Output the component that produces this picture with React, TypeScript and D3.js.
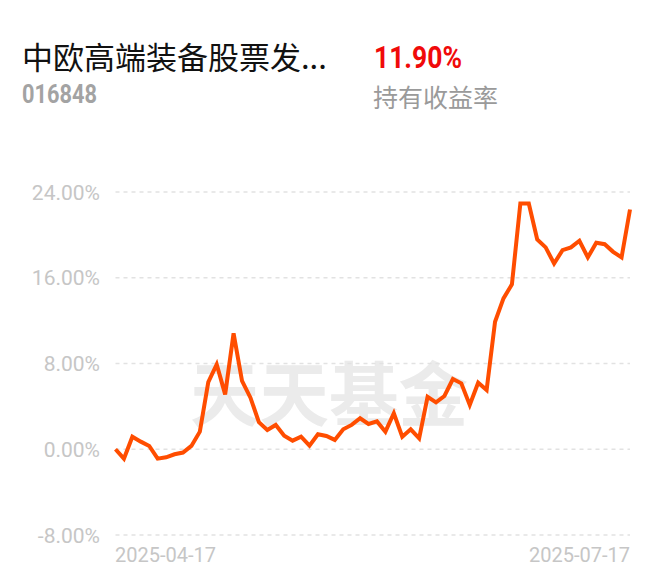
import React from "react";
import * as d3 from "d3";

const fundName = "中欧高端装备股票发...";
const fundCode = "016848";
const returnValue = "11.90%";
const returnLabel = "持有收益率";
const watermark = "天天基金";

const yTicks = [-8, 0, 8, 16, 24];
const xLabels = ["2025-04-17", "2025-07-17"];

const values = [
  0.0, -0.88, 1.17, 0.71, 0.31, -0.88, -0.75, -0.47, -0.31, 0.31,
  1.64, 6.27, 7.92, 5.12, 10.81, 6.37, 4.81, 2.52, 1.8, 2.27,
  1.27, 0.8, 1.17, 0.34, 1.4, 1.24, 0.87, 1.86, 2.27, 2.89,
  2.36, 2.6, 1.64, 3.36, 1.17, 1.86, 1.02, 4.9, 4.38, 4.97,
  6.55, 6.15, 4.13, 6.21, 5.53, 11.9, 14.07, 15.38, 22.93, 22.93,
  19.57, 18.83, 17.33, 18.57, 18.83, 19.45, 17.9, 19.26, 19.13, 18.42,
  17.9, 22.37,
];

export default function App() {
  const W = 660;
  const H = 585;
  const left = 115.5;
  const right = 630;
  const x = d3.scaleLinear().domain([0, values.length - 1]).range([left, right]);
  const y = d3.scaleLinear().domain([-8, 24]).range([535, 192]);
  const line = d3
    .line<number>()
    .x((_, i) => x(i))
    .y((d) => y(d));

  const sans = "Roboto, 'Noto Sans', sans-serif";
  const cjk = "'Noto Sans CJK SC', sans-serif";

  return (
    <div style={{ position: "absolute", left: 0, top: 0 }}>
      <svg width={W} height={H} style={{ display: "block", background: "#fff" }}>
        <rect x={0} y={0} width={W} height={H} fill="#fff" />
        <text x={22} y={69} fontFamily={cjk} fontSize={31} fill="#111">
          {fundName}
        </text>
        <text
          x={374}
          y={68}
          fontFamily={sans}
          fontWeight="bold"
          fontSize={31}
          fill="#f00a0a"
          textLength={88}
          lengthAdjust="spacingAndGlyphs"
        >
          {returnValue}
        </text>
        <text
          x={22}
          y={103}
          fontFamily={sans}
          fontWeight="bold"
          fontSize={25}
          fill="#a3a3a3"
          textLength={75}
          lengthAdjust="spacingAndGlyphs"
        >
          {fundCode}
        </text>
        <text x={373} y={107} fontFamily={cjk} fontSize={25} fill="#9a9a9a">
          {returnLabel}
        </text>

        <text
          x={190}
          y={421}
          fontFamily={cjk}
          fontWeight="bold"
          fontSize={70}
          fill="#ebebeb"
          textLength={278}
          lengthAdjust="spacingAndGlyphs"
        >
          {watermark}
        </text>

        {yTicks.map((t) => (
          <g key={t}>
            <line
              x1={left}
              x2={right}
              y1={y(t)}
              y2={y(t)}
              stroke="#e2e2e2"
              strokeWidth={1.5}
              strokeDasharray="4 4"
            />
            <text
              x={100}
              y={y(t)}
              dy="0.36em"
              textAnchor="end"
              fontFamily={sans}
              fontSize={21}
              fill="#c6c6c6"
            >
              {t.toFixed(2) + "%"}
            </text>
          </g>
        ))}

        <text x={115} y={562} fontFamily={sans} fontSize={20} fill="#c6c6c6">
          {xLabels[0]}
        </text>
        <text x={630} y={562} textAnchor="end" fontFamily={sans} fontSize={20} fill="#c6c6c6">
          {xLabels[1]}
        </text>

        <path
          d={line(values) || ""}
          fill="none"
          stroke="#ff4d00"
          strokeWidth={4}
          strokeLinejoin="miter"
        />
      </svg>
    </div>
  );
}
